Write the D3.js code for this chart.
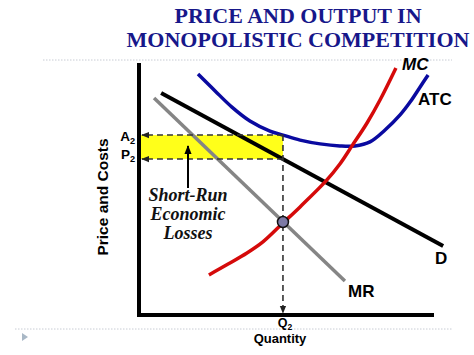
<!DOCTYPE html>
<html><head><meta charset="utf-8">
<script src="https://cdn.jsdelivr.net/npm/d3@7"></script>
<style>body{margin:0;background:#fff}svg{display:block}</style>
</head><body>
<svg id="c" width="474" height="355"></svg>
<script>
// ---- data (quantity, price units) ----
const titleLines = ["PRICE AND OUTPUT IN", "MONOPOLISTIC COMPETITION"];
const demandQ = [0.75, 10.31];
const demandP = [8.81, 2.74];
const mrQ = [0.51, 6.98];
const mrP = [8.61, 1.35];
const atcQ = [2.00, 2.58, 3.15, 3.76, 4.44, 4.88, 5.46, 6.14, 6.81, 7.32, 7.83, 8.34, 8.85, 9.19, 9.53, 9.80];
const atcP = [9.56, 8.89, 8.25, 7.70, 7.30, 7.14, 6.94, 6.79, 6.71, 6.71, 6.87, 7.34, 7.94, 8.45, 9.05, 9.52];
const mcQ = [2.37, 3.02, 3.66, 4.20, 4.88, 5.46, 6.34, 6.81, 7.22, 7.73, 8.17, 8.71];
const mcP = [1.59, 2.02, 2.46, 2.90, 3.65, 4.29, 5.32, 5.99, 6.71, 7.62, 8.53, 9.80];
const q2 = 4.88, p2 = 6.19, a2 = 7.14, mrAtQ2 = 3.69;
const lossText = ["Short-Run", "Economic", "Losses"];

const svg = d3.select("#c");
const x = d3.scaleLinear().domain([0, 10]).range([139, 434]);
const y = d3.scaleLinear().domain([0, 10]).range([315, 63]);
const zip = (a, b) => a.map((v, i) => [v, b[i]]);
const line = d3.line().x(d => x(d[0])).y(d => y(d[1]));
const smooth = d3.line().x(d => x(d[0])).y(d => y(d[1])).curve(d3.curveCatmullRom.alpha(0.5));

const defs = svg.append("defs");
defs.append("marker").attr("id","ah").attr("viewBox","0 0 10 10").attr("refX",9).attr("refY",5)
  .attr("markerWidth",5).attr("markerHeight",5).attr("orient","auto-start-reverse")
  .append("path").attr("d","M0,1L10,5L0,9z").attr("fill","#222");
defs.append("marker").attr("id","ah2").attr("viewBox","0 0 10 10").attr("refX",9).attr("refY",5)
  .attr("markerWidth",4.5).attr("markerHeight",4.5).attr("orient","auto")
  .append("path").attr("d","M0,1L10,5L0,9z").attr("fill","#000");

// separators
svg.append("line").attr("x1",43).attr("x2",452).attr("y1",60).attr("y2",60)
  .attr("stroke","#c8ccd4").attr("stroke-width",1).attr("stroke-dasharray","1.5,1.5");
svg.append("line").attr("x1",15).attr("x2",453).attr("y1",329).attr("y2",329)
  .attr("stroke","#c8ccd4").attr("stroke-width",1).attr("stroke-dasharray","1.5,1.5");
svg.append("path").attr("d","M22,333L28,337L22,341z").attr("fill","#a9b8c6");

// title
svg.selectAll("text.title").data(titleLines).join("text").attr("class","title")
  .attr("x",298).attr("y",(d,i)=>23+i*24).attr("text-anchor","middle")
  .attr("font-family","Liberation Serif, Times New Roman, serif").attr("font-weight","bold")
  .attr("font-size",22).attr("fill","#17178a").text(d=>d);

// yellow loss rectangle
svg.append("rect").attr("x",x(0)).attr("y",y(a2)).attr("width",x(q2)-x(0)).attr("height",y(p2)-y(a2))
  .attr("fill","#ffff1a");

// curves
svg.append("path").attr("d",line(zip(mrQ,mrP))).attr("stroke","#858585").attr("stroke-width",3.5).attr("fill","none");
svg.append("path").attr("d",line(zip(demandQ,demandP))).attr("stroke","#000").attr("stroke-width",4).attr("fill","none");
svg.append("path").attr("d",smooth(zip(atcQ,atcP))).attr("stroke","#0a0aa0").attr("stroke-width",3.5).attr("fill","none");
svg.append("path").attr("d",smooth(zip(mcQ,mcP))).attr("stroke","#d50a0a").attr("stroke-width",3.5).attr("fill","none");

// dashed guides
const dash = {stroke:"#333","stroke-width":1.6,"stroke-dasharray":"6,4"};
function dl(x1,y1,x2,y2,marker){
  const l = svg.append("line").attr("x1",x1).attr("y1",y1).attr("x2",x2).attr("y2",y2);
  Object.entries(dash).forEach(([k,v])=>l.attr(k,v));
  l.attr("fill","none");
  if(marker) l.attr("marker-end","url(#ah)");
}
dl(x(q2), y(a2), x(0)+3, y(a2), true);
dl(x(q2), y(p2), x(0)+3, y(p2), true);
dl(x(q2), y(a2), x(q2), y(0)-2, true);

// axes
svg.append("path").attr("d",`M${x(0)},${y(10)}V${y(0)}H${x(10)}`).attr("stroke","#000")
  .attr("stroke-width",4).attr("fill","none");

// intersection point
svg.append("circle").attr("cx",x(q2)).attr("cy",y(mrAtQ2)).attr("r",5.5)
  .attr("fill","#7d7aa6").attr("stroke","#111").attr("stroke-width",1.5);

// arrow to loss rectangle
svg.append("line").attr("x1",188).attr("y1",188).attr("x2",188).attr("y2",y(p2)-13)
  .attr("stroke","#000").attr("stroke-width",2).attr("marker-end","url(#ah2)");

// loss text
svg.selectAll("text.loss").data(lossText).join("text").attr("class","loss")
  .attr("x",188).attr("y",(d,i)=>201+i*19).attr("text-anchor","middle")
  .attr("font-family","Liberation Serif, Times New Roman, serif").attr("font-weight","bold")
  .attr("font-style","italic").attr("font-size",18).attr("fill","#111").text(d=>d);

// curve labels
const lab = (t,xx,yy,it)=>svg.append("text").attr("x",xx).attr("y",yy)
  .attr("font-family","Liberation Sans, Arial, sans-serif").attr("font-weight","bold")
  .attr("font-style",it?"italic":"normal").attr("font-size",17).attr("fill","#000").text(t);
lab("MC",402,70,true);
lab("ATC",418,105,false);
lab("D",435,264,false);
lab("MR",348,297,false);

// A2 / P2 / Q2 labels
function sub(t,s,xx,yy,anchor,fs){
  const tx = svg.append("text").attr("x",xx).attr("y",yy).attr("text-anchor",anchor)
    .attr("font-family","Liberation Sans, Arial, sans-serif").attr("font-weight","bold")
    .attr("font-size",fs).attr("fill","#000");
  tx.append("tspan").text(t);
  tx.append("tspan").attr("font-size",fs*0.68).attr("dy",3).text(s);
}
sub("A","2",135,y(a2)+6,"end",13.5);
sub("P","2",135,y(p2),"end",13.5);
sub("Q","2",x(q2)+2,327,"middle",12.5);

svg.append("text").attr("x",280).attr("y",343).attr("text-anchor","middle")
  .attr("font-family","Liberation Sans, Arial, sans-serif").attr("font-weight","bold")
  .attr("font-size",13).attr("fill","#000").text("Quantity");
svg.append("text").attr("transform","translate(108,197) rotate(-90)").attr("text-anchor","middle")
  .attr("font-family","Liberation Sans, Arial, sans-serif").attr("font-weight","bold")
  .attr("font-size",15.5).attr("fill","#000").text("Price and Costs");
</script>
</body></html>
